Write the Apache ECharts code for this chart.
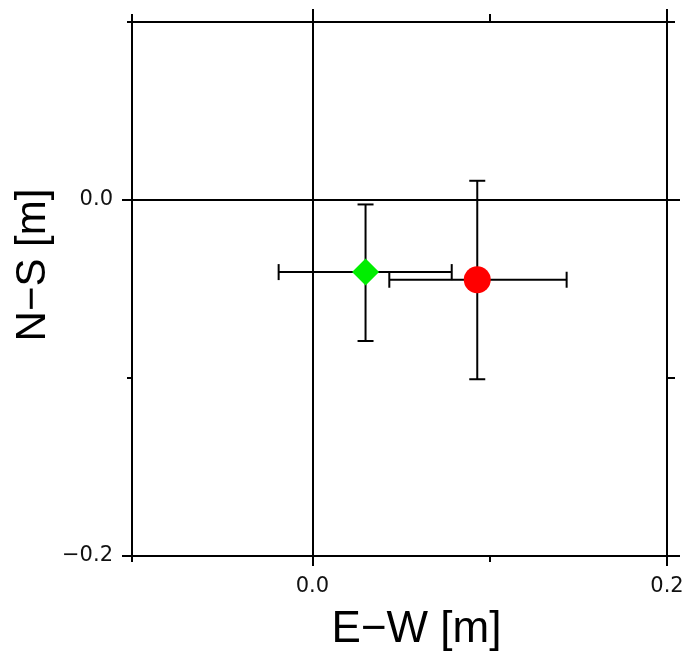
<!DOCTYPE html>
<html>
<head>
<meta charset="utf-8">
<script src="https://cdn.jsdelivr.net/npm/echarts@6/dist/echarts.min.js"></script>
<style>html,body{margin:0;padding:0;background:#fff;}#c{width:691px;height:654px;}</style>
</head>
<body>
<div id="c"></div>
<script>
// ---- data ----
var pointNames = ['A', 'B'];
var ewValues = [0.030, 0.093];          // E-W [m]
var nsValues = [-0.0405, -0.0448];      // N-S [m]
var ewLow = [-0.019, 0.0434];
var ewHigh = [0.0786, 0.1434];
var nsLow = [-0.0792, -0.1007];
var nsHigh = [-0.0025, 0.0108];
var pointColors = ['#00ee00', '#ff0000'];
var pointSymbols = ['diamond', 'circle'];

var xMin = -0.1017, xMax = 0.2;
var yMin = -0.2, yMax = 0.1;
var xMajorTicks = [0, 0.2];
var xMinorTicks = [-0.1017, 0.1];
var yMajorTicks = [-0.2, 0];
var yMinorTicks = [-0.1, 0.1];

function fmt(v) { return v.toFixed(1).replace('-', '\u2212'); }

var chart = echarts.init(document.getElementById('c'));
var tickFont = { fontFamily: 'DejaVu Sans', fontSize: 21, color: '#111' };
var lineStyle = { color: '#000', width: 2 };

function xAx(pos, ticks, len, showLine, labels, name) {
  var a = {
    type: 'value', position: pos, min: xMin, max: xMax,
    axisLine: { show: showLine, onZero: false, lineStyle: lineStyle },
    axisTick: { show: true, customValues: ticks, length: len, lineStyle: lineStyle },
    axisLabel: labels ? Object.assign({ show: true, customValues: xMajorTicks, margin: 20, formatter: fmt }, tickFont) : { show: false },
    splitLine: { show: false }
  };
  if (name) {
    a.name = name; a.nameLocation = 'middle'; a.nameGap = 52; a.nameMoveOverlap = false;
    a.nameTextStyle = { fontFamily: 'Liberation Sans', fontSize: 44, color: '#000', padding: [0, 0, 0, 34] };
  }
  return a;
}
function yAx(pos, ticks, len, showLine, labels, name) {
  var a = {
    type: 'value', position: pos, min: yMin, max: yMax,
    axisLine: { show: showLine, onZero: false, lineStyle: lineStyle },
    axisTick: { show: true, customValues: ticks, length: len, lineStyle: lineStyle },
    axisLabel: labels ? Object.assign({ show: true, customValues: yMajorTicks, margin: 19, formatter: fmt }, tickFont) : { show: false },
    splitLine: { show: false }
  };
  if (name) {
    a.name = name; a.nameLocation = 'middle'; a.nameGap = 78; a.nameMoveOverlap = false;
    a.nameTextStyle = { fontFamily: 'Liberation Sans', fontSize: 42, color: '#000', padding: [0, 0, 0, 48] };
  }
  return a;
}

var errData = pointNames.map(function (n, i) {
  return [ewValues[i], nsValues[i], ewLow[i], ewHigh[i], nsLow[i], nsHigh[i]];
});

function renderErr(params, api) {
  var c = api.coord([api.value(0), api.value(1)]);
  var xl = api.coord([api.value(2), api.value(1)]);
  var xh = api.coord([api.value(3), api.value(1)]);
  var yl = api.coord([api.value(0), api.value(4)]);
  var yh = api.coord([api.value(0), api.value(5)]);
  var cap = 8;
  var st = { stroke: '#000', lineWidth: 2 };
  function ln(x1, y1, x2, y2) { return { type: 'line', shape: { x1: x1, y1: y1, x2: x2, y2: y2 }, style: st }; }
  return {
    type: 'group',
    children: [
      ln(xl[0], c[1], xh[0], c[1]),
      ln(xl[0], c[1] - cap, xl[0], c[1] + cap),
      ln(xh[0], c[1] - cap, xh[0], c[1] + cap),
      ln(c[0], yl[1], c[0], yh[1]),
      ln(c[0] - cap, yl[1], c[0] + cap, yl[1]),
      ln(c[0] - cap, yh[1], c[0] + cap, yh[1])
    ]
  };
}

var series = [
  {
    type: 'custom', xAxisIndex: 0, yAxisIndex: 0, renderItem: renderErr, data: errData, z: 3, silent: true,
    markLine: {
      silent: true, symbol: 'none', label: { show: false },
      lineStyle: { color: '#000', width: 2, type: 'solid' },
      data: [{ xAxis: 0 }, { yAxis: 0 }]
    }
  }
];
pointNames.forEach(function (n, i) {
  series.push({
    type: 'scatter', name: n, xAxisIndex: 0, yAxisIndex: 0, z: 5,
    symbol: pointSymbols[i], symbolSize: 27,
    itemStyle: { color: pointColors[i], opacity: 1 },
    data: [[ewValues[i], nsValues[i]]]
  });
});

chart.setOption({
  animation: false,
  backgroundColor: '#fff',
  grid: { left: 132, right: 24, top: 22, bottom: 98, containLabel: false, outerBoundsMode: 'none' },
  xAxis: [
    xAx('bottom', xMajorTicks, 10, true, true, 'E\u2212W [m]'),
    xAx('bottom', xMinorTicks, 6, false, false),
    xAx('top', xMajorTicks, 13, true, false),
    xAx('top', xMinorTicks, 8, false, false)
  ],
  yAxis: [
    yAx('left', yMajorTicks, 10, true, true, 'N\u2212S [m]'),
    yAx('left', yMinorTicks, 5, false, false),
    yAx('right', yMajorTicks, 13, true, false),
    yAx('right', yMinorTicks, 8, false, false)
  ],
  series: series
});
</script>
</body>
</html>
